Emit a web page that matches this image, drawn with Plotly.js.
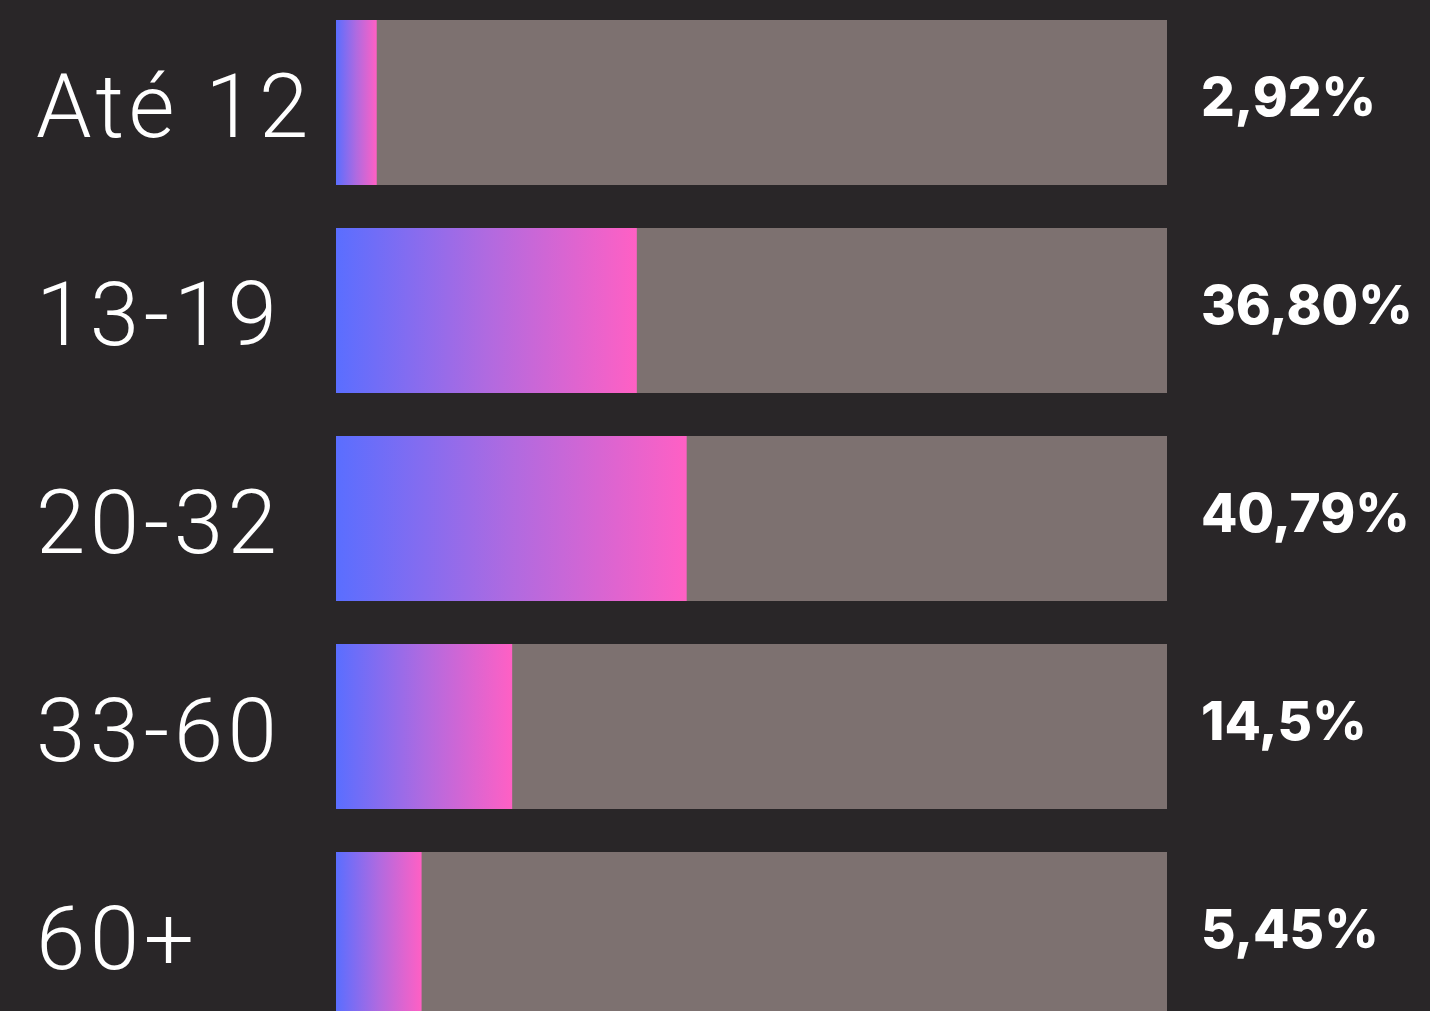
<!DOCTYPE html>
<html>
<head>
<meta charset="utf-8">
<script src="https://cdn.plot.ly/plotly-3.0.1.min.js"></script>
<style>
  html, body { margin: 0; padding: 0; background: #292628; }
  #chart { width: 1430px; height: 1011px; }
</style>
</head>
<body>
<div id="chart"></div>
<script>
// Age groups
const categories = ['Até 12', '13-19', '20-32', '33-60', '60+'];
// Labels printed next to each bar
const valueLabels = ['2,92%', '36,80%', '40,79%', '14,5%', '5,45%'];
// Filled length of each bar as drawn in the reference (share of the grey track, 0-100)
const barLength = [4.9, 36.2, 42.2, 21.2, 10.3];
// Full track length
const trackLength = [100, 100, 100, 100, 100];

const idx = categories.map((_, i) => i);
const barH = 0.793;

const traces = [];
// grey tracks
traces.push({
  type: 'bar', orientation: 'h',
  x: trackLength, y: idx, width: barH,
  marker: { color: '#7d7170', line: { width: 0 } },
  hoverinfo: 'skip', showlegend: false
});
// gradient fills
barLength.forEach((v, i) => {
  traces.push({
    type: 'scatter', mode: 'none',
    x: [0, v, v, 0, 0],
    y: [i - barH / 2, i - barH / 2, i + barH / 2, i + barH / 2, i - barH / 2],
    fill: 'toself',
    fillgradient: {
      type: 'horizontal',
      colorscale: [[0, '#5a6eff'], [0.5, '#b06ae0'], [1, '#ff60c4']]
    },
    hoverinfo: 'skip', showlegend: false
  });
});

const pxPerUnit = 8.31;
const xLeft = -336 / pxPerUnit;
const xRight = (1430 - 336) / pxPerUnit;

const annotations = [];
categories.forEach((c, i) => {
  annotations.push({
    x: -36.4, y: i + 0.02, xref: 'x', yref: 'y',
    text: c, showarrow: false, xanchor: 'left', yanchor: 'middle',
    font: { family: 'Roboto', size: 89, color: '#ffffff', weight: 300 }
  });
});
valueLabels.forEach((t, i) => {
  annotations.push({
    x: 103.9, y: i - 0.025, xref: 'x', yref: 'y',
    text: t, showarrow: false, xanchor: 'left', yanchor: 'middle',
    font: { family: 'Inter', size: 53, color: '#ffffff', weight: 800 }
  });
});

const layout = {
  width: 1430, height: 1011,
  margin: { l: 0, r: 0, t: 0, b: 0, pad: 0 },
  paper_bgcolor: '#292628', plot_bgcolor: '#292628',
  showlegend: false,
  xaxis: { range: [xLeft, xRight], visible: false, fixedrange: true },
  yaxis: { range: [4.3678, -0.4928], visible: false, fixedrange: true },
  annotations: annotations
};

Plotly.newPlot('chart', traces, layout, { displayModeBar: false, staticPlot: true }).then(() => {
  // widen the category labels slightly (letter spacing), keeping their left edge fixed
  document.querySelectorAll('#chart g.annotation').forEach((g) => {
    const k = +g.getAttribute('data-index');
    if (k >= categories.length) return;
    const txt = g.querySelector('text.annotation-text');
    if (!txt) return;
    const left = txt.getBBox().x;
    txt.style.letterSpacing = '4.5px';
    txt.setAttribute('text-anchor', 'start');
    txt.setAttribute('x', left);
  });
});
</script>
</body>
</html>
